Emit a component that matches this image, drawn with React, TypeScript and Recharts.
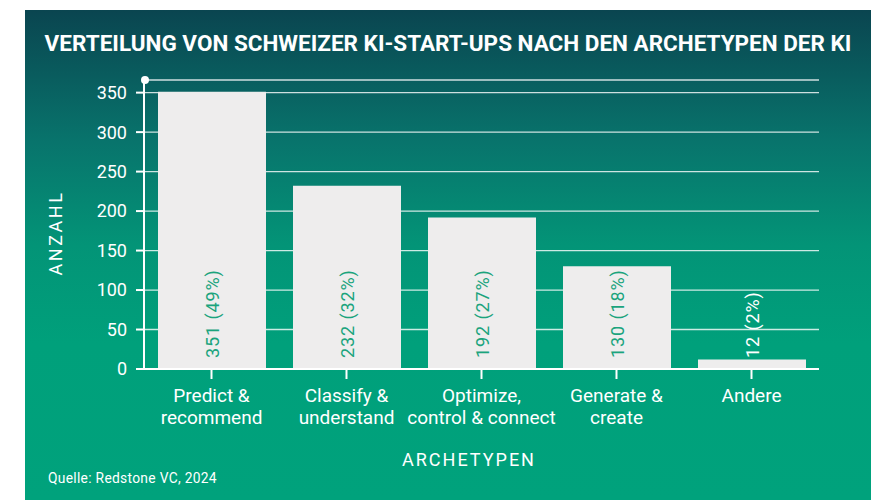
import React from 'react';
import { BarChart, Bar, XAxis, YAxis, CartesianGrid } from 'recharts';

const categories = [
  'Predict &\nrecommend',
  'Classify &\nunderstand',
  'Optimize,\ncontrol & connect',
  'Generate &\ncreate',
  'Andere',
];
const counts = [351, 232, 192, 130, 12];
const shares = [49, 32, 27, 18, 2];
const yTicks = [0, 50, 100, 150, 200, 250, 300, 350];

const data = categories.map((name, i) => ({ name, count: counts[i], share: shares[i] }));

const FONT = 'Roboto, "Noto Sans", sans-serif';
const LABEL_GREEN = '#1ba47d';

const XTick = (props: any) => {
  const { x, y, payload } = props;
  const lines = String(payload.value).split('\n');
  return (
    <g transform={`translate(${x},${y})`}>
      <text textAnchor="middle" fill="#ffffff" fontSize={19} fontFamily={FONT}>
        {lines.map((l, i) => (
          <tspan key={i} x={0} dy={i === 0 ? 21 : 22}>{l}</tspan>
        ))}
      </text>
    </g>
  );
};

const BarLabel = (props: any) => {
  const { x, y, width, height, index } = props;
  const cx = x + width / 2;
  const base = y + height - 11;
  const small = counts[index] < 50;
  return (
    <text
      x={cx}
      y={base}
      transform={`rotate(-90, ${cx}, ${base})`}
      textAnchor="start"
      dominantBaseline="central"
      fill={small ? '#ffffff' : LABEL_GREEN}
      fontSize={18}
      letterSpacing={0.9}
      fontFamily={FONT}
    >
      {`${counts[index]} (${shares[index]}%)`}
    </text>
  );
};

export default function App() {
  return (
    <div style={{ position: 'absolute', left: 0, top: 0, width: 880, height: 500, background: '#ffffff', fontFamily: FONT }}>
      <div
        style={{
          position: 'absolute',
          left: 25,
          top: 10,
          width: 846,
          height: 490,
          background: 'linear-gradient(180deg, #0a4550 0%, #08746c 27%, #039477 48%, #00a07b 68%, #00a27c 100%)',
        }}
      />
      <div
        style={{
          position: 'absolute',
          left: 25,
          top: 29,
          width: 846,
          textAlign: 'center',
          color: '#ffffff',
          fontSize: 22.5,
          fontWeight: 700,
          lineHeight: '28px',
          whiteSpace: 'nowrap',
        }}
      >
        VERTEILUNG VON SCHWEIZER KI-START-UPS NACH DEN ARCHETYPEN DER KI
      </div>
      <div style={{ position: 'absolute', left: 0, top: 0 }}>
        <BarChart width={880} height={500} data={data} margin={{ top: 80, right: 61, bottom: 71, left: 84 }}>
          <CartesianGrid vertical={false} stroke="rgba(255,255,255,0.8)" strokeWidth={1.3} />
          <XAxis
            dataKey="name"
            interval={0}
            height={60}
            axisLine={{ stroke: '#ffffff', strokeWidth: 2 }}
            tickLine={{ stroke: '#ffffff', strokeWidth: 2 }}
            tickSize={10}
            tickMargin={2}
            tick={<XTick />}
          />
          <YAxis
            width={60}
            domain={[0, 366]}
            ticks={yTicks}
            allowDataOverflow
            axisLine={{ stroke: '#ffffff', strokeWidth: 2 }}
            tickLine={{ stroke: '#ffffff', strokeWidth: 2 }}
            tickSize={8}
            tickMargin={9}
            tick={{ fill: '#ffffff', fontSize: 18, fontFamily: FONT }}
          />
          <Bar dataKey="count" fill="#eeeded" barSize={108} isAnimationActive={false} label={<BarLabel />} />
        </BarChart>
      </div>
      <div
        style={{
          position: 'absolute',
          left: 141,
          top: 76,
          width: 8,
          height: 8,
          borderRadius: 4,
          background: '#ffffff',
        }}
      />
      <div
        style={{
          position: 'absolute',
          left: 55,
          top: 233,
          transform: 'translate(-50%, -50%) rotate(-90deg)',
          color: '#ffffff',
          fontSize: 18,
          letterSpacing: 2.5,
          whiteSpace: 'nowrap',
        }}
      >
        ANZAHL
      </div>
      <div
        style={{
          position: 'absolute',
          left: 469,
          top: 459,
          transform: 'translate(-50%, -50%)',
          color: '#ffffff',
          fontSize: 18,
          letterSpacing: 2,
          whiteSpace: 'nowrap',
        }}
      >
        ARCHETYPEN
      </div>
      <div
        style={{
          position: 'absolute',
          left: 48,
          top: 470,
          color: '#ffffff',
          fontSize: 13.8,
          letterSpacing: 0.3,
          whiteSpace: 'nowrap',
        }}
      >
        Quelle: Redstone VC, 2024
      </div>
    </div>
  );
}
